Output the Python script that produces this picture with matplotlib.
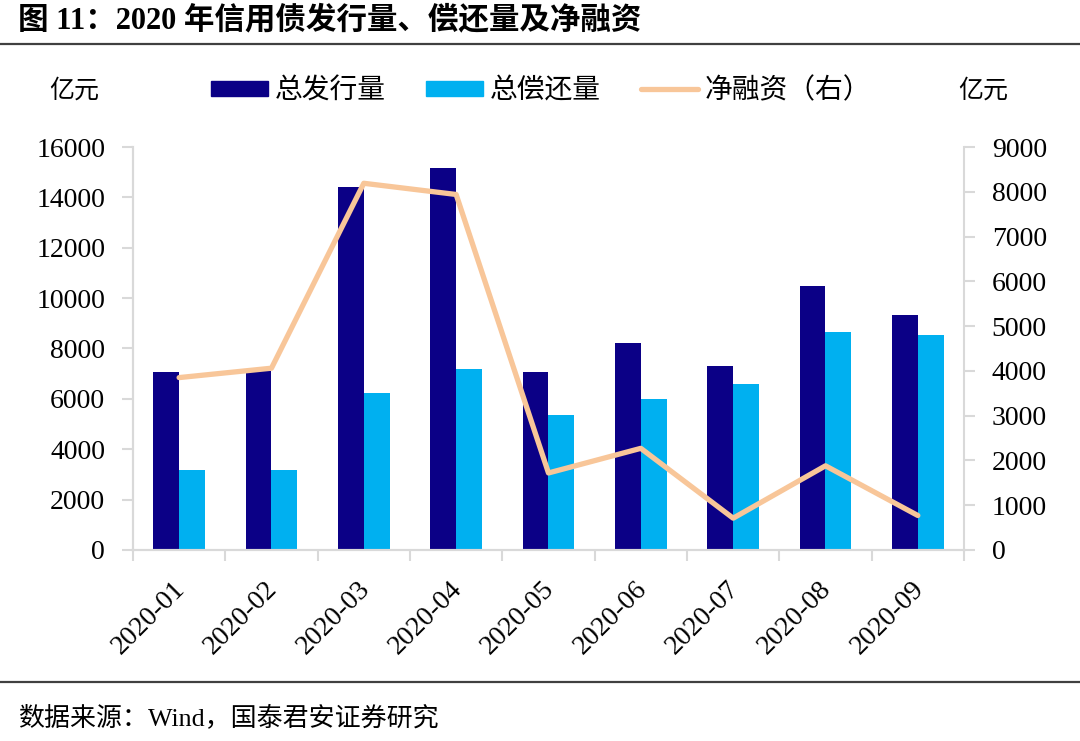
import numpy as np
import matplotlib
matplotlib.use("Agg")
import matplotlib.pyplot as plt
from matplotlib.lines import Line2D
from matplotlib.patches import Patch

# =========================
# 数据
# =========================
months = ["2020-01", "2020-02", "2020-03", "2020-04", "2020-05",
          "2020-06", "2020-07", "2020-08", "2020-09"]
issue = [7060, 7110, 14400, 15150, 7080, 8230, 7320, 10490, 9330]      # 总发行量
repay = [3180, 3180, 6220, 7190, 5340, 5980, 6580, 8640, 8530]         # 总偿还量
net_fin = [3850, 4060, 8190, 7940, 1720, 2270, 710, 1880, 770]         # 净融资（右）

FONT = ["Liberation Serif", "Noto Sans CJK SC", "DejaVu Sans"]
plt.rcParams["font.family"] = FONT

C_DARK = "#0B0086"
C_LIGHT = "#00B0F0"
C_LINE = "#F8C699"
C_AXIS = "#D9D9D9"

fig = plt.figure(figsize=(10.8, 7.41), dpi=100)
ax = fig.add_axes([0.1231, 0.2578, 0.7695, 0.5438])
ax2 = ax.twinx()

x = np.arange(len(months))
w = 0.28
ax.bar(x - w / 2, issue, width=w, color=C_DARK, label="总发行量", zorder=2)
ax.bar(x + w / 2, repay, width=w, color=C_LIGHT, label="总偿还量", zorder=2)
ax2.plot(x, net_fin, color=C_LINE, lw=3.8, solid_capstyle="round", label="净融资（右）")

ax.set_xlim(-0.5, len(months) - 0.5)
ax.set_ylim(0, 16000)
ax.set_yticks(np.arange(0, 16001, 2000))
ax2.set_ylim(0, 9000)
ax2.set_yticks(np.arange(0, 9001, 1000))

# x 轴：刻度线在分类边界，标签在中心
ax.set_xticks(x)
ax.set_xticklabels(months, rotation=45, ha="right", va="center_baseline",
                   rotation_mode="anchor")
ax.set_xticks(np.arange(-0.5, len(months)), minor=True)
ax.tick_params(axis="x", which="major", length=0, pad=24, labelsize=20)
ax.tick_params(axis="x", which="minor", length=8, width=1.5, color=C_AXIS)
ax.tick_params(axis="y", length=8, width=1.5, color=C_AXIS, pad=12, labelsize=20)
ax2.tick_params(axis="y", length=8, width=1.5, color=C_AXIS, pad=12, labelsize=20)

for a in (ax, ax2):
    a.spines["top"].set_visible(False)
    for s in ("left", "right", "bottom"):
        a.spines[s].set_color(C_AXIS)
        a.spines[s].set_linewidth(1.5)
ax.spines["right"].set_visible(False)

# 图例
handles = [Patch(color=C_DARK), Patch(color=C_LIGHT),
           Line2D([], [], color=C_LINE, lw=3.8, solid_capstyle="round")]
labels = ["总发行量", "总偿还量", "净融资（右）"]
fig.legend(handles, labels, loc="center left", bbox_to_anchor=(0.185, 0.877),
           ncol=3, frameon=False, fontsize=20, handlelength=2.05, handleheight=0.5,
           handletextpad=0.25, columnspacing=1.45, borderaxespad=0)

fig.text(0.046, 0.877, "亿元", fontsize=18, va="center", ha="left")
fig.text(0.887, 0.877, "亿元", fontsize=18, va="center", ha="left")

# 标题与来源
fig.text(0.017, 0.972, "图 11：2020 年信用债发行量、偿还量及净融资", fontsize=22,
         fontweight="bold", va="center", ha="left")
fig.add_artist(Line2D([0, 1], [1 - 44 / 741, 1 - 44 / 741], color="#404040", lw=1.6))
fig.add_artist(Line2D([0, 1], [1 - 682 / 741, 1 - 682 / 741], color="#404040", lw=1.6))
fig.text(0.017, 1 - 718 / 741, "数据来源：Wind，国泰君安证券研究", fontsize=18.7,
         va="center", ha="left")

fig.savefig("out.png", dpi=100)
